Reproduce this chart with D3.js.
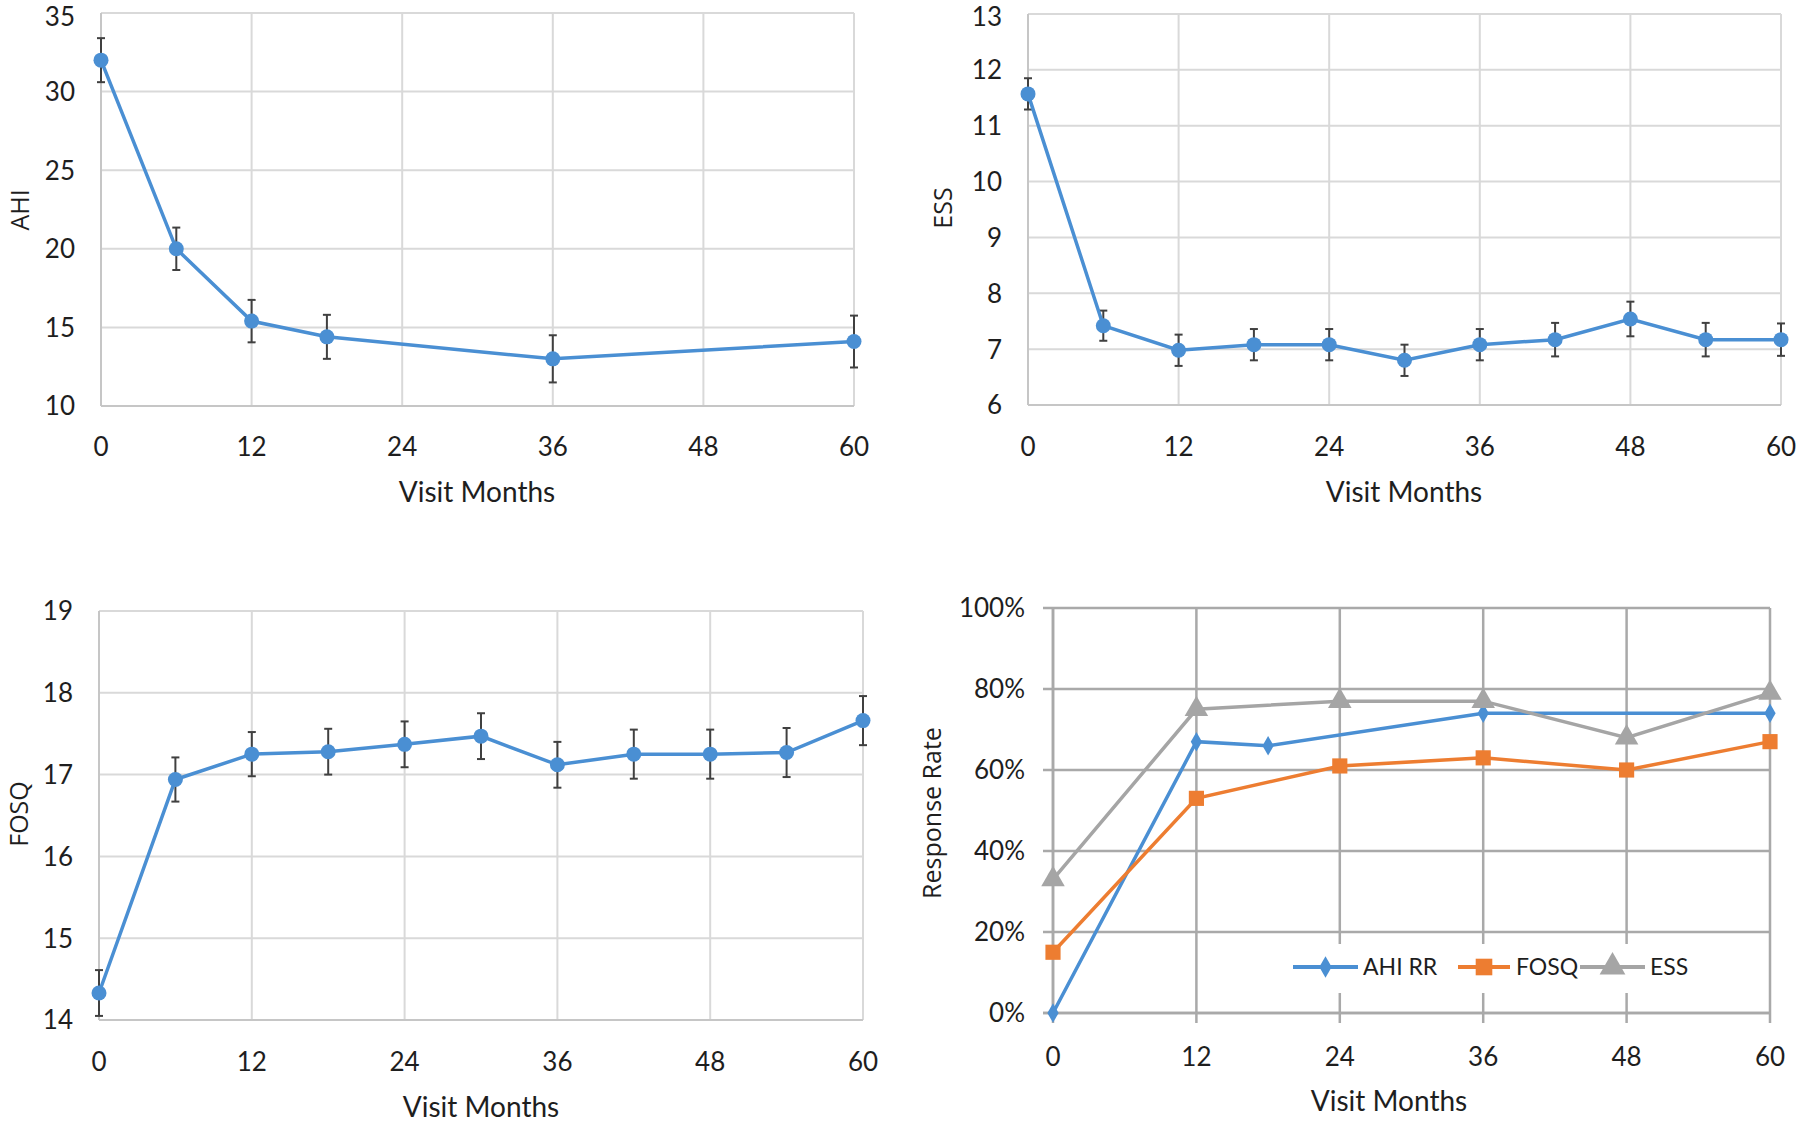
<!doctype html>
<html lang="en">
  <head>
    <meta charset="utf-8">
    <title>AHI, ESS, FOSQ and response rate over visit months</title>
    <script src="https://d3js.org/d3.v7.min.js"></script>
    <style type="text/css">
      body { margin: 0; background-color: #ffffff }
      .tick-label { font-family: Lato, "Open Sans", sans-serif; font-size: 26px; fill: #1e1e1e }
      .axis-title { font-family: Lato, "Open Sans", sans-serif; font-size: 28px; fill: #1e1e1e }
      .y-title { font-family: "Open Sans", sans-serif; font-size: 25px; fill: #1e1e1e }
      .legend-label { font-family: Lato, "Open Sans", sans-serif; font-size: 23px; fill: #1e1e1e }
    </style>
  </head>
  <body>
    <script>
      // x ticks shared by every panel
      var monthTicks = [0, 12, 24, 36, 48, 60];

      // AHI panel
      var ahiMonths = [0, 6, 12, 18, 36, 60];
      var ahiMean = [32.0, 20.0, 15.4, 14.4, 13.0, 14.1];
      var ahiErr = [1.4, 1.35, 1.35, 1.4, 1.5, 1.65];
      var ahiTicks = [10, 15, 20, 25, 30, 35];

      // ESS panel
      var essMonths = [0, 6, 12, 18, 24, 30, 36, 42, 48, 54, 60];
      var essMean = [11.57, 7.42, 6.98, 7.08, 7.08, 6.8, 7.08, 7.17, 7.54, 7.17, 7.17];
      var essErr = [0.28, 0.27, 0.28, 0.28, 0.28, 0.28, 0.28, 0.3, 0.31, 0.3, 0.29];
      var essTicks = [6, 7, 8, 9, 10, 11, 12, 13];

      // FOSQ panel
      var fosqMonths = [0, 6, 12, 18, 24, 30, 36, 42, 48, 54, 60];
      var fosqMean = [14.33, 16.94, 17.25, 17.28, 17.37, 17.47, 17.12, 17.25, 17.25, 17.27, 17.66];
      var fosqErr = [0.28, 0.27, 0.27, 0.28, 0.28, 0.28, 0.28, 0.3, 0.3, 0.3, 0.3];
      var fosqTicks = [14, 15, 16, 17, 18, 19];

      // response rate panel (percent)
      var rrAhiMonths = [0, 12, 18, 36, 60];
      var rrAhi = [0, 67, 66, 74, 74];
      var rrMonths = [0, 12, 24, 36, 48, 60];
      var rrFosq = [15, 53, 61, 63, 60, 67];
      var rrEss = [33, 75, 77, 77, 68, 79];
      var rrTicks = [0, 20, 40, 60, 80, 100];
      var rrNames = ["AHI RR", "FOSQ", "ESS"];

      var blue = "#4a8fd3";
      var orange = "#ed7d31";
      var grey = "#a5a5a5";

      var w = 1800;
      var h = 1123;

      var svg = d3.select("body")
        .append("svg")
        .attr("width", w)
        .attr("height", h);

      // draws frame, grid and tick labels of one panel, returns its scales
      function drawFrame(p) {
        var x = d3.scaleLinear().domain([0, 60]).range([p.left, p.right]);
        var y = d3.scaleLinear().domain(p.domain).range([p.bottom, p.top]);
        var g = svg.append("g");
        var tick = p.tick || 0;

        g.selectAll("line.hgrid")
          .data(p.yTicks)
          .enter()
          .append("line")
          .attr("x1", p.left - tick)
          .attr("x2", p.right)
          .attr("y1", function(d) { return y(d); })
          .attr("y2", function(d) { return y(d); })
          .style("stroke", p.grid)
          .style("stroke-width", p.gridWidth);

        g.selectAll("line.vgrid")
          .data(monthTicks)
          .enter()
          .append("line")
          .attr("x1", function(d) { return x(d); })
          .attr("x2", function(d) { return x(d); })
          .attr("y1", p.top)
          .attr("y2", p.bottom + tick)
          .style("stroke", p.grid)
          .style("stroke-width", p.gridWidth);

        // axis lines
        g.append("line")
          .attr("x1", p.left).attr("x2", p.left)
          .attr("y1", p.top).attr("y2", p.bottom)
          .style("stroke", p.axis)
          .style("stroke-width", p.gridWidth);
        g.append("line")
          .attr("x1", p.left - tick).attr("x2", p.right)
          .attr("y1", p.bottom).attr("y2", p.bottom)
          .style("stroke", p.axis)
          .style("stroke-width", p.gridWidth);

        // top labels nudged down a little so they stay inside the page
        g.selectAll("text.ytick")
          .data(p.yTicks)
          .enter()
          .append("text")
          .attr("class", "tick-label")
          .attr("x", p.left - p.labelGap)
          .attr("y", function(d) { return Math.max(y(d), 17); })
          .attr("dy", "0.36em")
          .attr("text-anchor", "end")
          .text(p.fmt || function(d) { return d; });

        g.selectAll("text.xtick")
          .data(monthTicks)
          .enter()
          .append("text")
          .attr("class", "tick-label")
          .attr("x", function(d) { return x(d); })
          .attr("y", p.xLabelY)
          .attr("dy", "0.36em")
          .attr("text-anchor", "middle")
          .text(function(d) { return d; });

        g.append("text")
          .attr("class", "axis-title")
          .attr("x", p.titleX)
          .attr("y", p.titleY)
          .attr("dy", "0.36em")
          .attr("text-anchor", "middle")
          .text("Visit Months");

        g.append("text")
          .attr("class", "y-title")
          .attr("transform", "translate(" + p.yTitleX + "," + p.yTitleY + ") rotate(-90)")
          .attr("dy", "0.36em")
          .attr("text-anchor", "middle")
          .text(p.yTitle);

        return { x: x, y: y, g: g };
      }

      // mean line with error bars and round markers
      function drawErrorPanel(p, months, mean, err) {
        var s = drawFrame(p);
        var pts = months.map(function(m, i) { return { m: m, v: mean[i], e: err[i] }; });

        var bars = s.g.selectAll("g.err")
          .data(pts)
          .enter()
          .append("g");
        bars.append("line")
          .attr("x1", function(d) { return s.x(d.m); })
          .attr("x2", function(d) { return s.x(d.m); })
          .attr("y1", function(d) { return s.y(d.v + d.e); })
          .attr("y2", function(d) { return s.y(d.v - d.e); });
        bars.append("line")
          .attr("x1", function(d) { return s.x(d.m) - 4; })
          .attr("x2", function(d) { return s.x(d.m) + 4; })
          .attr("y1", function(d) { return s.y(d.v + d.e); })
          .attr("y2", function(d) { return s.y(d.v + d.e); });
        bars.append("line")
          .attr("x1", function(d) { return s.x(d.m) - 4; })
          .attr("x2", function(d) { return s.x(d.m) + 4; })
          .attr("y1", function(d) { return s.y(d.v - d.e); })
          .attr("y2", function(d) { return s.y(d.v - d.e); });
        bars.selectAll("line")
          .style("stroke", "#404040")
          .style("stroke-width", 2);

        var line = d3.line()
          .x(function(d) { return s.x(d.m); })
          .y(function(d) { return s.y(d.v); });

        s.g.append("path")
          .datum(pts)
          .attr("d", line)
          .style("fill", "none")
          .style("stroke", blue)
          .style("stroke-width", 3.5);

        s.g.selectAll("circle")
          .data(pts)
          .enter()
          .append("circle")
          .attr("cx", function(d) { return s.x(d.m); })
          .attr("cy", function(d) { return s.y(d.v); })
          .attr("r", 7.5)
          .style("fill", blue);
      }

      var lightGrid = { grid: "#d9d9d9", axis: "#c6c6c6", gridWidth: 2, labelGap: 26 };

      drawErrorPanel(Object.assign({
        left: 101, right: 854, top: 13, bottom: 406,
        domain: [10, 35], yTicks: ahiTicks,
        xLabelY: 447, titleX: 477, titleY: 492,
        yTitle: "AHI", yTitleX: 20, yTitleY: 210
      }, lightGrid), ahiMonths, ahiMean, ahiErr);

      drawErrorPanel(Object.assign({
        left: 1028, right: 1781, top: 14, bottom: 405,
        domain: [6, 13], yTicks: essTicks,
        xLabelY: 447, titleX: 1404, titleY: 492,
        yTitle: "ESS", yTitleX: 943, yTitleY: 208
      }, lightGrid), essMonths, essMean, essErr);

      drawErrorPanel(Object.assign({
        left: 99, right: 863, top: 611, bottom: 1020,
        domain: [14, 19], yTicks: fosqTicks,
        xLabelY: 1062, titleX: 481, titleY: 1107,
        yTitle: "FOSQ", yTitleX: 19, yTitleY: 814
      }, lightGrid), fosqMonths, fosqMean, fosqErr);

      // response rate panel
      var rr = drawFrame({
        left: 1053, right: 1770, top: 608, bottom: 1013,
        domain: [0, 100], yTicks: rrTicks,
        grid: "#a9a9a9", axis: "#a9a9a9", gridWidth: 2.5, tick: 10, labelGap: 28,
        fmt: function(d) { return d + "%"; },
        xLabelY: 1057, titleX: 1389, titleY: 1101,
        yTitle: "Response Rate", yTitleX: 932, yTitleY: 813
      });

      var rrSeries = [
        { name: rrNames[0], months: rrAhiMonths, values: rrAhi, color: blue, symbol: d3.symbolDiamond, size: 110 },
        { name: rrNames[1], months: rrMonths, values: rrFosq, color: orange, symbol: d3.symbolSquare, size: 230 },
        { name: rrNames[2], months: rrMonths, values: rrEss, color: grey, symbol: d3.symbolTriangle, size: 240 }
      ];

      var rrLine = d3.line()
        .x(function(d) { return rr.x(d.m); })
        .y(function(d) { return rr.y(d.v); });

      rrSeries.forEach(function(s) {
        var pts = s.months.map(function(m, i) { return { m: m, v: s.values[i] }; });
        rr.g.append("path")
          .datum(pts)
          .attr("d", rrLine)
          .style("fill", "none")
          .style("stroke", s.color)
          .style("stroke-width", 3.5);
        rr.g.selectAll("path.mk-" + s.name.replace(" ", ""))
          .data(pts)
          .enter()
          .append("path")
          .attr("transform", function(d) { return "translate(" + rr.x(d.m) + "," + rr.y(d.v) + ")"; })
          .attr("d", d3.symbol().type(s.symbol).size(s.size))
          .style("fill", s.color);
      });

      // legend
      var legend = rr.g.append("g");
      legend.append("rect")
        .attr("x", 1286).attr("y", 944)
        .attr("width", 412).attr("height", 49)
        .style("fill", "#ffffff");
      var legendX = [1293, 1458, 1580];
      var legendLen = [65, 52, 65];
      var legendTextX = [1363, 1516, 1650];
      rrSeries.forEach(function(s, i) {
        legend.append("line")
          .attr("x1", legendX[i]).attr("x2", legendX[i] + legendLen[i])
          .attr("y1", 967).attr("y2", 967)
          .style("stroke", s.color)
          .style("stroke-width", 4);
        legend.append("path")
          .attr("transform", "translate(" + (legendX[i] + legendLen[i] / 2) + ",967)")
          .attr("d", d3.symbol().type(s.symbol).size(s.size * 1.2))
          .style("fill", s.color);
        legend.append("text")
          .attr("class", "legend-label")
          .attr("x", legendTextX[i])
          .attr("y", 967)
          .attr("dy", "0.36em")
          .text(s.name);
      });
    </script>
  </body>
</html>
